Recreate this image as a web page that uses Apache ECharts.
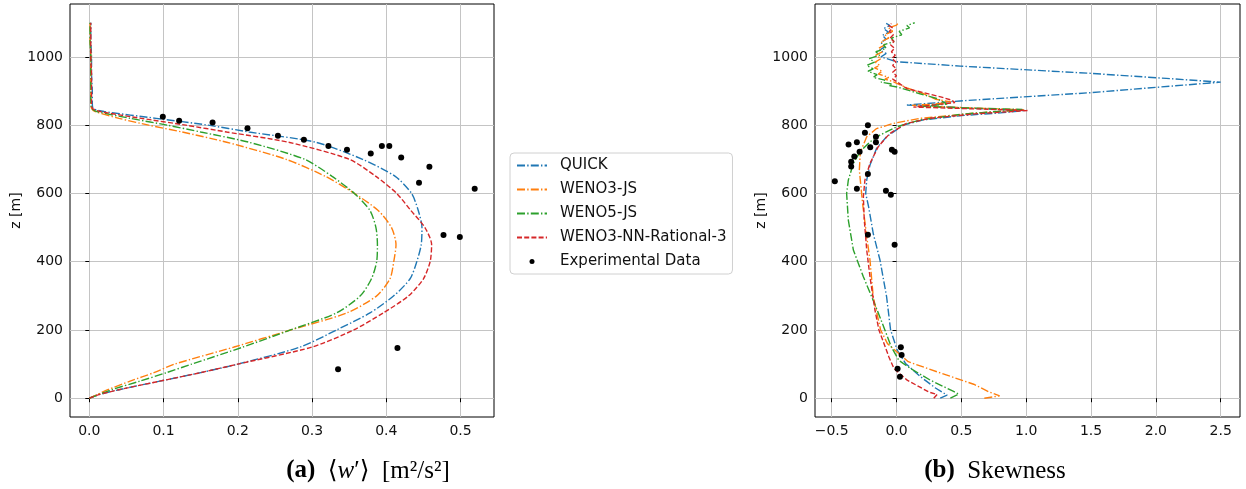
<!DOCTYPE html>
<html>
<head>
<meta charset="utf-8">
<script src="https://cdn.jsdelivr.net/npm/echarts@6/dist/echarts.min.js"></script>
<style>
    html, body { margin: 0; padding: 0; background: #fff; }
    #profile_chart { width: 1246px; height: 489px; }
</style>
</head>
<body>
<div id="profile_chart"></div>
<script>
let profileChart;

document.addEventListener("DOMContentLoaded", () => {
    profileChart = echarts.init(document.getElementById("profile_chart"));
    drawChart();
});

// tick labels
const zTicks = [0, 200, 400, 600, 800, 1000];
const wTicks = [0, 0.1, 0.2, 0.3, 0.4, 0.5];
const skewTicks = [-0.5, 0, 0.5, 1, 1.5, 2, 2.5];

const schemeNames = ["QUICK", "WENO3-JS", "WENO5-JS", "WENO3-NN-Rational-3"];
const expName = "Experimental Data";

// (a) <w'> profiles, all on the same heights
const zProfile = [0, 10, 25, 50, 75, 100, 150, 200, 250, 300, 350, 400, 450, 500, 550, 600, 650, 700, 750, 780, 800, 820, 840, 850, 870, 900, 950, 1000, 1050, 1100];
const quickW = [0, 0.012, 0.04, 0.095, 0.15, 0.2, 0.284, 0.333, 0.378, 0.41, 0.432, 0.441, 0.447, 0.448, 0.443, 0.434, 0.412, 0.368, 0.305, 0.215, 0.16, 0.09, 0.02, 0.005, 0.004, 0.004, 0.003, 0.003, 0.002, 0.002];
const weno3W = [0, 0.01, 0.025, 0.055, 0.087, 0.115, 0.195, 0.271, 0.347, 0.387, 0.405, 0.41, 0.413, 0.407, 0.389, 0.357, 0.318, 0.265, 0.185, 0.125, 0.08, 0.04, 0.008, 0.003, 0.002, 0.002, 0.002, 0.002, 0.001, 0.001];
const weno5W = [0, 0.012, 0.03, 0.068, 0.104, 0.138, 0.207, 0.271, 0.333, 0.365, 0.38, 0.387, 0.388, 0.386, 0.378, 0.357, 0.327, 0.29, 0.215, 0.15, 0.105, 0.055, 0.01, 0.003, 0.002, 0.002, 0.002, 0.002, 0.001, 0.001];
const nnW = [0, 0.012, 0.04, 0.095, 0.15, 0.2, 0.3, 0.356, 0.396, 0.43, 0.45, 0.459, 0.461, 0.452, 0.433, 0.414, 0.386, 0.35, 0.268, 0.185, 0.13, 0.07, 0.015, 0.004, 0.003, 0.003, 0.003, 0.002, 0.002, 0.002];

const expW = [0.099, 0.121, 0.166, 0.213, 0.254, 0.289, 0.322, 0.347, 0.379, 0.394, 0.404, 0.42, 0.458, 0.444, 0.519, 0.477, 0.499, 0.415, 0.335];
const expWZ = [825, 813, 808, 791, 769, 757, 739, 728, 717, 739, 739, 705, 678, 631, 614, 478, 472, 147, 85];

// (b) skewness profiles
const quickSkewZ = [0, 9, 30, 63, 102, 141, 200, 298, 405, 483, 560, 600, 640, 683, 732, 766, 800, 815, 828, 836, 843, 851, 859, 871, 895, 912, 926, 937, 952, 973, 986, 1000, 1010, 1020, 1030, 1042, 1052, 1063, 1072, 1083, 1092, 1098];
const quickSkew = [0.337, 0.39, 0.3, 0.185, 0.069, 0.005, -0.046, -0.077, -0.128, -0.18, -0.215, -0.238, -0.23, -0.205, -0.154, -0.077, 0.05, 0.2, 0.5, 0.8, 0.99, 0.5, 0.08, 0.49, 1.49, 2.04, 2.5, 2.08, 1.49, 0.49, 0, -0.12, -0.08, -0.13, -0.09, -0.12, -0.08, -0.11, -0.06, -0.1, -0.05, -0.08];

const weno3SkewZ = [0, 7, 19, 41, 74, 107, 160, 200, 298, 405, 473, 571, 668, 720, 766, 790, 805, 820, 835, 845, 853, 858, 862, 868, 876, 892, 909, 927, 935, 940, 950, 958, 968, 975, 985, 995, 1005, 1015, 1025, 1035, 1045, 1055, 1065, 1075, 1085, 1093, 1100];
const weno3Skew = [0.677, 0.795, 0.71, 0.595, 0.338, 0.09, -0.07, -0.123, -0.18, -0.205, -0.23, -0.262, -0.287, -0.28, -0.23, -0.154, -0.026, 0.18, 0.6, 0.98, 0.4, 0.12, 0.3, 0.42, 0.3, 0.21, 0.08, -0.023, -0.09, -0.06, -0.14, -0.11, -0.17, -0.13, -0.165, -0.12, -0.16, -0.11, -0.14, -0.09, -0.12, -0.06, -0.09, -0.03, -0.06, 0.0, 0.015];

const weno5SkewZ = [0, 12, 20, 53, 87, 111, 150, 200, 259, 356, 434, 522, 600, 639, 688, 722, 751, 771, 795, 815, 832, 846, 851, 855, 862, 878, 892, 912, 916, 920, 926, 932, 940, 948, 958, 965, 975, 985, 995, 1005, 1015, 1025, 1035, 1045, 1055, 1065, 1075, 1085, 1092, 1100];
const weno5Skew = [0.415, 0.48, 0.44, 0.26, 0.108, 0.018, -0.04, -0.09, -0.15, -0.256, -0.333, -0.372, -0.385, -0.372, -0.333, -0.282, -0.205, -0.128, 0, 0.18, 0.5, 0.97, 0.5, 0.2, 0.39, 0.31, 0.18, 0.003, -0.06, -0.03, -0.12, -0.09, -0.18, -0.15, -0.22, -0.18, -0.23, -0.17, -0.21, -0.13, -0.16, -0.08, -0.1, -0.02, -0.04, 0.04, 0.02, 0.1, 0.08, 0.14];

const nnSkewZ = [0, 11, 18, 53, 87, 121, 160, 200, 259, 356, 434, 522, 590, 639, 688, 737, 776, 805, 820, 833, 843, 849, 853, 866, 873, 883, 895, 907, 927, 935, 945, 955, 965, 975, 985, 995, 1005, 1015, 1025, 1035, 1045, 1055, 1065, 1075, 1085, 1092, 1098];
const nnSkew = [0.287, 0.313, 0.25, 0.082, -0.02, -0.059, -0.097, -0.136, -0.167, -0.205, -0.23, -0.249, -0.256, -0.244, -0.205, -0.141, -0.051, 0.077, 0.256, 0.6, 1.01, 0.5, 0.13, 0.45, 0.427, 0.34, 0.21, 0.08, 0.003, -0.03, 0.0, -0.03, 0.0, -0.03, -0.005, -0.035, -0.01, -0.04, -0.015, -0.045, -0.02, -0.05, -0.025, -0.055, -0.03, -0.06, -0.04];

const expSkew = [-0.221, -0.244, -0.37, -0.306, -0.159, -0.159, -0.203, -0.285, -0.326, -0.35, -0.35, -0.036, -0.015, -0.221, -0.476, -0.306, -0.082, -0.044, -0.221, -0.015, 0.033, 0.039, 0.008, 0.026];
const expSkewZ = [800, 778, 743, 750, 766, 750, 735, 722, 708, 693, 679, 728, 722, 657, 636, 614, 608, 596, 479, 450, 149, 127, 86, 63];

const sansFont = "DejaVu Sans";
const serifFont = "Liberation Serif, DejaVu Serif, serif";

const schemeStyles = [
    { color: "#1f77b4", dash: [8, 2.2, 1.4, 2.2] },
    { color: "#ff7f0e", dash: [8, 2.2, 1.4, 2.2] },
    { color: "#2ca02c", dash: [8, 2.2, 1.4, 2.2] },
    { color: "#d62728", dash: [5, 2.2] }
];

const pairs = (xs, zs) => xs.map((x, i) => [x, zs[i]]);

const lineSeries = (name, idx, data, axisIndex, smooth) => ({
    name: name,
    type: "line",
    xAxisIndex: axisIndex,
    yAxisIndex: axisIndex,
    data: data,
    symbol: "none",
    showSymbol: false,
    smooth: smooth,
    lineStyle: { color: schemeStyles[idx].color, width: 1.4, type: schemeStyles[idx].dash },
    itemStyle: { color: schemeStyles[idx].color },
    z: 2 + idx
});

const makeXAxis = (gridIndex, min, max, ticks, fmt) => ({
    type: "value",
    gridIndex,
    min,
    max,
    axisLine: { show: false },
    axisTick: { show: true, length: 4, lineStyle: { color: "#000", width: 1 }, customValues: ticks },
    axisLabel: { customValues: ticks, formatter: fmt, fontFamily: sansFont, fontSize: 14, color: "#111", margin: 7 },
    splitLine: { show: true, lineStyle: { color: "#c4c4c4", width: 1 } }
});

const makeYAxis = (gridIndex) => ({
    type: "value",
    gridIndex,
    min: -55,
    max: 1155,
    name: "z [m]",
    nameLocation: "middle",
    nameRotate: 90,
    nameGap: 43,
    nameTextStyle: { fontFamily: sansFont, fontSize: 14, color: "#111" },
    axisLine: { show: false },
    axisTick: { show: true, length: 4, lineStyle: { color: "#000", width: 1 }, customValues: zTicks },
    axisLabel: { customValues: zTicks, formatter: (v) => String(v), fontFamily: sansFont, fontSize: 14, color: "#111", margin: 7 },
    splitLine: { show: true, lineStyle: { color: "#c4c4c4", width: 1 } }
});

const drawChart = () => {
    const wCurves = [quickW, weno3W, weno5W, nnW];
    const skewCurves = [[quickSkew, quickSkewZ], [weno3Skew, weno3SkewZ], [weno5Skew, weno5SkewZ], [nnSkew, nnSkewZ]];

    const series = [];
    schemeNames.forEach((name, i) => {
        series.push(lineSeries(name, i, pairs(wCurves[i], zProfile), 0, 0.25));
        series.push(lineSeries(name, i, pairs(skewCurves[i][0], skewCurves[i][1]), 1, false));
    });
    [[expW, expWZ, 0], [expSkew, expSkewZ, 1]].forEach(([xs, zs, ax]) => {
        series.push({
            name: expName,
            type: "scatter",
            xAxisIndex: ax,
            yAxisIndex: ax,
            data: pairs(xs, zs),
            symbol: "circle",
            symbolSize: 6,
            itemStyle: { color: "#000", opacity: 1 },
            z: 10
        });
    });

    const minusFmt = (v) => v.toFixed(1).replace("-", "\u2212");

    const option = {
        animation: false,
        backgroundColor: "#fff",
        grid: [
            { left: 70, top: 4, width: 424, height: 413, show: true, borderColor: "#000", borderWidth: 1, backgroundColor: "#fff", containLabel: false, outerBoundsMode: "none" },
            { left: 815, top: 4, width: 425, height: 413, show: true, borderColor: "#000", borderWidth: 1, backgroundColor: "#fff", containLabel: false, outerBoundsMode: "none" }
        ],
        xAxis: [
            makeXAxis(0, -0.026, 0.545, wTicks, (v) => v.toFixed(1)),
            makeXAxis(1, -0.629, 2.649, skewTicks, minusFmt)
        ],
        yAxis: [makeYAxis(0), makeYAxis(1)],
        legend: {
            orient: "vertical",
            left: 510,
            top: 153,
            padding: [5, 6, 5, 6],
            itemWidth: 30,
            itemHeight: 14,
            itemGap: 9,
            borderColor: "#d0d0d0",
            borderWidth: 1,
            borderRadius: 4,
            backgroundColor: "#fff",
            selectedMode: false,
            textStyle: { fontFamily: sansFont, fontSize: 15, color: "#111", lineHeight: 14, padding: [0, 0, 0, 8] },
            data: [
                // line symbol hidden, only the dashed stroke stays
                ...schemeNames.map((name) => ({ name, itemStyle: { opacity: 0 } })),
                { name: expName, icon: "path://M0 0M30 14M12.5 7a2.5 2.5 0 1 0 5 0a2.5 2.5 0 1 0 -5 0", itemStyle: { color: "#000", opacity: 1 } }
            ]
        },
        graphic: [
            {
                type: "text",
                x: 368,
                y: 471,
                style: {
                    text: "{b|(a)}  \u27e8{i|w}\u2032\u27e9  [m\u00b2/s\u00b2]",
                    font: "25px " + serifFont,
                    fill: "#000",
                    align: "center",
                    verticalAlign: "middle",
                    rich: {
                        b: { fontWeight: "bold", fontSize: 25, fontFamily: serifFont },
                        i: { fontStyle: "italic", fontSize: 25, fontFamily: serifFont }
                    }
                }
            },
            {
                type: "text",
                x: 995,
                y: 471,
                style: {
                    text: "{b|(b)}  Skewness",
                    font: "25px " + serifFont,
                    fill: "#000",
                    align: "center",
                    verticalAlign: "middle",
                    rich: {
                        b: { fontWeight: "bold", fontSize: 25, fontFamily: serifFont }
                    }
                }
            }
        ],
        series: series
    };

    profileChart.setOption(option);
};
</script>
</body>
</html>
